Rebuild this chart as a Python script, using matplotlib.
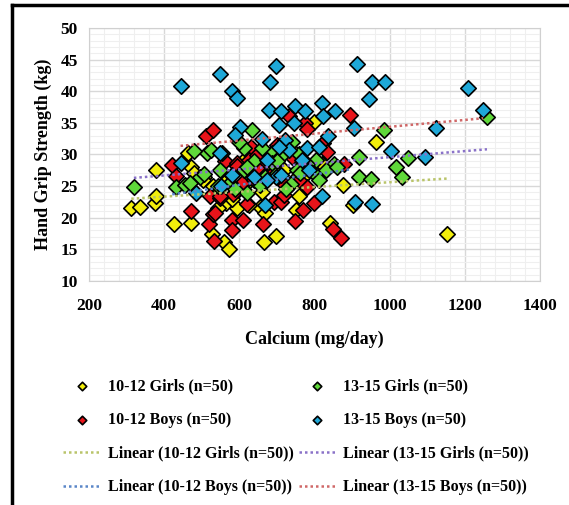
import numpy as np
import matplotlib
matplotlib.use("Agg")
import matplotlib.pyplot as plt
from matplotlib.lines import Line2D
from matplotlib.ticker import MultipleLocator

# 10-12 Girls (n=50)
girls_young_x = [313, 336, 376, 380, 378, 427, 473, 465, 471, 506, 528, 560, 572, 564, 593,
                 543, 665, 699, 655, 670, 750, 800, 678, 965, 877, 842, 903, 1153, 504, 480,
                 600, 620, 640, 690, 720, 745, 770, 790, 820, 700, 610, 580, 530, 560, 660,
                 735, 760, 625, 545, 760]
girls_young_y = [21.6, 21.7, 22.4, 23.4, 27.5, 19.0, 19.1, 30.3, 28.0, 26.5, 17.5, 16.2, 15.0, 22.3, 21.5,
                 21.6, 16.2, 17.1, 21.7, 20.7, 21.3, 35.1, 28.7, 32.0, 25.2, 19.2, 22.0, 17.4, 26.0, 27.0,
                 24.5, 25.5, 27.0, 28.0, 27.5, 26.0, 26.5, 27.5, 28.5, 30.0, 29.0, 23.0, 25.0, 25.5, 24.0,
                 31.0, 23.5, 22.0, 24.0, 29.5]

# 13-15 Girls (n=50)
girls_old_x = [320, 431, 457, 496, 515, 506, 524, 555, 612, 634, 688, 710, 550, 612, 688,
               754, 798, 803, 655, 738, 763, 811, 621, 986, 1049, 851, 919, 1018, 1034, 919,
               951, 1259, 575, 590, 640, 660, 700, 725, 780, 830, 860, 480, 470, 600, 670,
               740, 760, 545, 620, 700]
girls_old_y = [24.9, 24.8, 25.2, 26.4, 30.2, 26.9, 30.7, 30.2, 31.1, 33.9, 30.2, 29.7, 27.5, 27.5, 28.6,
               27.5, 27.0, 29.1, 25.2, 25.4, 27.0, 26.0, 23.9, 33.9, 29.4, 28.5, 29.6, 28.0, 26.5, 26.5,
               26.1, 35.9, 25.5, 24.5, 29.0, 31.0, 27.0, 24.5, 28.5, 27.5, 28.0, 30.5, 25.5, 32.0, 26.5,
               32.0, 30.0, 25.0, 28.0, 29.0]

# 10-12 Boys (n=50)
boys_young_x = [422, 431, 471, 512, 530, 521, 533, 531, 522, 549, 562, 581, 581, 611, 595,
                584, 611, 621, 632, 626, 652, 648, 664, 692, 710, 718, 732, 776, 780, 741,
                721, 748, 770, 798, 780, 896, 824, 834, 880, 850, 872, 550, 535, 608, 593,
                648, 700, 760, 690, 640]
boys_young_y = [28.3, 26.6, 21.1, 32.9, 33.9, 19.0, 16.3, 20.6, 23.4, 23.1, 28.9, 19.6, 18.0, 19.6, 28.6,
                23.8, 25.3, 22.2, 31.2, 29.1, 28.1, 29.9, 19.0, 22.5, 22.5, 23.6, 36.1, 34.9, 34.1, 29.6,
                25.2, 19.5, 21.3, 22.4, 24.8, 36.2, 31.8, 30.4, 28.5, 18.2, 16.8, 23.4, 20.7, 25.5, 28.1,
                27.9, 31.5, 26.0, 27.0, 26.0]

# 13-15 Boys (n=50)
boys_old_x = [446, 444, 484, 550, 581, 593, 602, 590, 699, 683, 679, 710, 749, 775, 821,
              745, 705, 661, 723, 732, 780, 811, 581, 639, 767, 785, 697, 674, 552, 670,
              821, 710, 675, 914, 954, 988, 946, 856, 824, 906, 1124, 835, 1004, 1095, 909,
              954, 1249, 1209, 550, 705]
boys_old_y = [40.9, 28.6, 23.9, 42.7, 40.1, 38.9, 34.4, 33.1, 44.0, 41.5, 37.1, 36.9, 37.6, 36.8, 38.1,
              34.9, 34.7, 32.4, 32.3, 30.7, 31.0, 31.2, 26.8, 26.5, 29.1, 27.5, 26.5, 29.1, 25.0, 22.0,
              23.4, 26.8, 26.0, 44.3, 41.5, 41.5, 38.8, 36.9, 36.1, 34.2, 34.2, 32.9, 30.5, 29.6, 22.5,
              22.2, 37.0, 40.5, 30.2, 31.2]

plt.rcParams['font.family'] = ['Liberation Serif', 'DejaVu Serif']
plt.rcParams['font.weight'] = 'bold'

fig = plt.figure(figsize=(5.69, 5.05), dpi=100)
ax = fig.add_axes([0.156, 0.4436, 0.793, 0.501])

series = [
    ("10-12 Girls (n=50)", girls_young_x, girls_young_y, "#f2ee0c", "#b9c46a"),
    ("10-12 Boys (n=50)", boys_young_x, boys_young_y, "#e8141a", "#5a86c8"),
    ("13-15 Girls (n=50)", girls_old_x, girls_old_y, "#5fd83a", "#8a72c8"),
    ("13-15 Boys (n=50)", boys_old_x, boys_old_y, "#1ea8d8", "#d06868"),
]

points = {}
trends = {}
for name, xs, ys, col, tcol in series:
    points[name] = ax.scatter(xs, ys, marker='D', s=62, c=col, edgecolors='black',
                              linewidths=1.2, zorder=3)
    # linear trendline (like Excel) over the data range
    k, b = np.polyfit(xs, ys, 1)
    xx = np.array([min(xs), max(xs)])
    trends[name] = ax.plot(xx, k * xx + b, linestyle=(0, (1, 1.2)), color=tcol,
                           linewidth=1.8, zorder=4)[0]

ax.set_xlim(200, 1400)
ax.set_ylim(10, 50)
ax.xaxis.set_major_locator(MultipleLocator(200))
ax.yaxis.set_major_locator(MultipleLocator(5))
ax.xaxis.set_minor_locator(MultipleLocator(40))
ax.yaxis.set_minor_locator(MultipleLocator(1))
ax.grid(which='major', color='#d8d8d8', linewidth=1)
ax.grid(which='minor', color='#efefef', linewidth=0.8)
ax.set_axisbelow(True)
ax.tick_params(which='both', length=0, labelsize=12.5)
ax.tick_params(axis='x', pad=12)
ax.tick_params(axis='y', pad=8)
for lab in ax.get_xticklabels() + ax.get_yticklabels():
    lab.set_fontweight('bold')
for sp in ax.spines.values():
    sp.set_color('#d0d0d0')

ax.set_xlabel("Calcium (mg/day)", fontsize=13, fontweight='bold', labelpad=12)
ax.set_ylabel("Hand Grip Strength (kg)", fontsize=13, fontweight='bold', labelpad=6)

handles = [points["10-12 Girls (n=50)"], points["10-12 Boys (n=50)"],
           trends["10-12 Girls (n=50)"], trends["10-12 Boys (n=50)"],
           points["13-15 Girls (n=50)"], points["13-15 Boys (n=50)"],
           trends["13-15 Girls (n=50)"], trends["13-15 Boys (n=50)"]]
labels = ["10-12 Girls (n=50)", "10-12 Boys (n=50)",
          "Linear (10-12 Girls (n=50))", "Linear (10-12 Boys (n=50))",
          "13-15 Girls (n=50)", "13-15 Boys (n=50)",
          "Linear (13-15 Girls (n=50))", "Linear (13-15 Boys (n=50))"]
leg = fig.legend(handles, labels, ncols=2, loc='upper left', bbox_to_anchor=(0.086, 0.279),
                 frameon=False, fontsize=11.5, handlelength=2.3, columnspacing=0.3,
                 labelspacing=1.1, handletextpad=0.5, scatterpoints=1, markerscale=0.55)
for t in leg.get_texts():
    t.set_fontweight('bold')

# black frame on top and left edges
fig.add_artist(Line2D([0.021, 1.0], [0.99, 0.99], color='black', linewidth=2.5))
fig.add_artist(Line2D([0.021, 0.021], [0.0, 0.99], color='black', linewidth=2.5))

fig.savefig("out.png", dpi=100)
